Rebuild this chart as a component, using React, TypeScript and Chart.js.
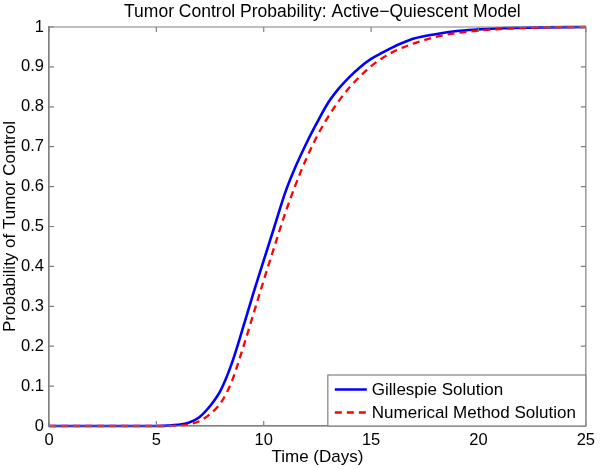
import React, { useEffect, useRef } from "react";
import { Chart, registerables } from "chart.js";

Chart.register(...registerables);

const gillespieTimes = [0, 5, 5.5, 6, 6.5, 7, 7.5, 8, 8.5, 9, 9.5, 10, 10.5, 11, 11.5, 12, 12.5, 13, 13.5, 14, 14.5, 15, 15.5, 16, 16.5, 17, 18, 19, 20, 21, 22, 23, 25];
const gillespieValues = [0, 0, 0.001, 0.003, 0.008, 0.022, 0.05, 0.09, 0.155, 0.24, 0.33, 0.415, 0.5, 0.585, 0.652, 0.71, 0.762, 0.81, 0.846, 0.875, 0.9, 0.92, 0.935, 0.949, 0.961, 0.971, 0.982, 0.99, 0.994, 0.997, 0.998, 0.999, 1.0];

const numericalTimes = [0, 5, 5.5, 6, 6.5, 7, 7.5, 8, 8.5, 9, 9.5, 10, 10.5, 11, 11.5, 12, 12.5, 13, 13.5, 14, 14.5, 15, 15.5, 16, 16.5, 17, 18, 19, 20, 21, 22, 23, 25];
const numericalValues = [0, 0, 0, 0.001, 0.004, 0.012, 0.03, 0.058, 0.11, 0.19, 0.277, 0.365, 0.45, 0.533, 0.607, 0.672, 0.728, 0.775, 0.815, 0.849, 0.877, 0.902, 0.921, 0.937, 0.949, 0.959, 0.975, 0.985, 0.991, 0.995, 0.997, 0.999, 1.0];

const xTicks = [0, 5, 10, 15, 20, 25];
const yTicks = [0, 0.1, 0.2, 0.3, 0.4, 0.5, 0.6, 0.7, 0.8, 0.9, 1];

const seriesLabels = ["Gillespie Solution", "Numerical Method Solution"];
const titleText = "Tumor Control Probability: Active\u2212Quiescent Model";

const FONT = "'Liberation Sans', Arial, Helvetica, sans-serif";
const AXIS_COLOR = "#808080";

const boxPlugin = {
  id: "matlabBox",
  afterDatasetsDraw(chart: any) {
    const { ctx, chartArea } = chart;
    const { left, right, top, bottom } = chartArea;
    const xs = chart.scales.x;
    const ys = chart.scales.y;
    ctx.save();
    ctx.strokeStyle = AXIS_COLOR;
    ctx.lineWidth = 1.2;
    ctx.beginPath();
    ctx.rect(left, top, right - left, bottom - top);
    ctx.stroke();
    const tl = 5;
    ctx.beginPath();
    xTicks.forEach((t) => {
      const px = xs.getPixelForValue(t);
      ctx.moveTo(px, bottom);
      ctx.lineTo(px, bottom - tl);
      ctx.moveTo(px, top);
      ctx.lineTo(px, top + tl);
    });
    yTicks.forEach((t) => {
      const py = ys.getPixelForValue(t);
      ctx.moveTo(left, py);
      ctx.lineTo(left + tl, py);
      ctx.moveTo(right, py);
      ctx.lineTo(right - tl, py);
    });
    ctx.stroke();

    // title
    ctx.fillStyle = "#000000";
    ctx.font = `17.5px ${FONT}`;
    ctx.textAlign = "center";
    ctx.textBaseline = "alphabetic";
    ctx.fillText(titleText, (left + right) / 2 + 5, 16.5);

    // legend
    const w = 258;
    const h = 51;
    const lx = right - w;
    const ly = bottom - h;
    ctx.fillStyle = "#ffffff";
    ctx.fillRect(lx, ly, w, h);
    ctx.strokeStyle = AXIS_COLOR;
    ctx.lineWidth = 1.2;
    ctx.strokeRect(lx, ly, w, h);
    const rows = [
      { y: ly + 14.5, color: "#0000ff", dash: [] as number[], width: 2.6, text: seriesLabels[0] },
      { y: ly + 37.5, color: "#ff0000", dash: [7, 5], width: 2.3, text: seriesLabels[1] },
    ];
    rows.forEach((r) => {
      ctx.beginPath();
      ctx.strokeStyle = r.color;
      ctx.lineWidth = r.width;
      ctx.setLineDash(r.dash);
      ctx.moveTo(lx + 7, r.y);
      ctx.lineTo(lx + 39, r.y);
      ctx.stroke();
      ctx.setLineDash([]);
      ctx.fillStyle = "#000000";
      ctx.font = `17px ${FONT}`;
      ctx.textBaseline = "middle";
      ctx.textAlign = "left";
      ctx.fillText(r.text, lx + 44, r.y + 1);
    });
    ctx.restore();
  },
};

export default function App() {
  const canvasRef = useRef<HTMLCanvasElement | null>(null);

  useEffect(() => {
    if (!canvasRef.current) return;
    const chart = new Chart(canvasRef.current, {
      type: "line",
      data: {
        datasets: [
          {
            label: seriesLabels[0],
            data: gillespieTimes.map((t, i) => ({ x: t, y: gillespieValues[i] })),
            borderColor: "#0000ff",
            backgroundColor: "#0000ff",
            borderWidth: 2.6,
            pointRadius: 0,
            cubicInterpolationMode: "monotone",
            fill: false,
            clip: false as any,
            order: 2,
          },
          {
            label: seriesLabels[1],
            data: numericalTimes.map((t, i) => ({ x: t, y: numericalValues[i] })),
            borderColor: "#ff0000",
            backgroundColor: "#ff0000",
            borderWidth: 2.3,
            borderDash: [7, 5],
            pointRadius: 0,
            cubicInterpolationMode: "monotone",
            fill: false,
            clip: false as any,
            order: 1,
          },
        ],
      },
      options: {
        responsive: false,
        animation: false,
        devicePixelRatio: 1,
        layout: { padding: { left: 0, right: 12, top: 27, bottom: 0 } },
        plugins: {
          legend: { display: false },
          tooltip: { enabled: false },
          title: { display: false },
        },
        scales: {
          x: {
            type: "linear",
            min: 0,
            max: 25,
            afterBuildTicks: (scale: any) => {
              scale.ticks = xTicks.map((v) => ({ value: v }));
            },
            ticks: {
              color: "#000",
              font: { family: FONT, size: 16.5 },
              padding: 5,
              maxRotation: 0,
              autoSkip: false,
            },
            grid: { display: true, drawOnChartArea: false, drawTicks: false, color: AXIS_COLOR },
            border: { display: true, color: AXIS_COLOR, width: 1.2 },
            title: {
              display: true,
              text: "Time (Days)",
              color: "#000",
              font: { family: FONT, size: 17, lineHeight: 1.2 },
              padding: { top: 0, bottom: 1 },
            },
            afterFit: (scale: any) => {
              scale.height = 43;
            },
          },
          y: {
            type: "linear",
            min: 0,
            max: 1,
            afterBuildTicks: (scale: any) => {
              scale.ticks = yTicks.map((v) => ({ value: v }));
            },
            ticks: {
              color: "#000",
              font: { family: FONT, size: 16.5 },
              padding: 5,
              autoSkip: false,
              callback: (v: any) => Number(Number(v).toFixed(1)).toString(),
            },
            grid: { display: true, drawOnChartArea: false, drawTicks: false, color: AXIS_COLOR },
            border: { display: true, color: AXIS_COLOR, width: 1.2 },
            title: {
              display: true,
              text: "Probability of Tumor Control",
              color: "#000",
              font: { family: FONT, size: 17, lineHeight: 1.2 },
              padding: { top: 0, bottom: 0 },
            },
            afterFit: (scale: any) => {
              scale.width = 49;
            },
          },
        },
      },
      plugins: [boxPlugin],
    });
    return () => chart.destroy();
  }, []);

  return (
    <div style={{ position: "fixed", left: 0, top: 0, width: 600, height: 469, background: "#fff" }}>
      <canvas ref={canvasRef} width={600} height={469} style={{ width: 600, height: 469, display: "block" }} />
    </div>
  );
}
